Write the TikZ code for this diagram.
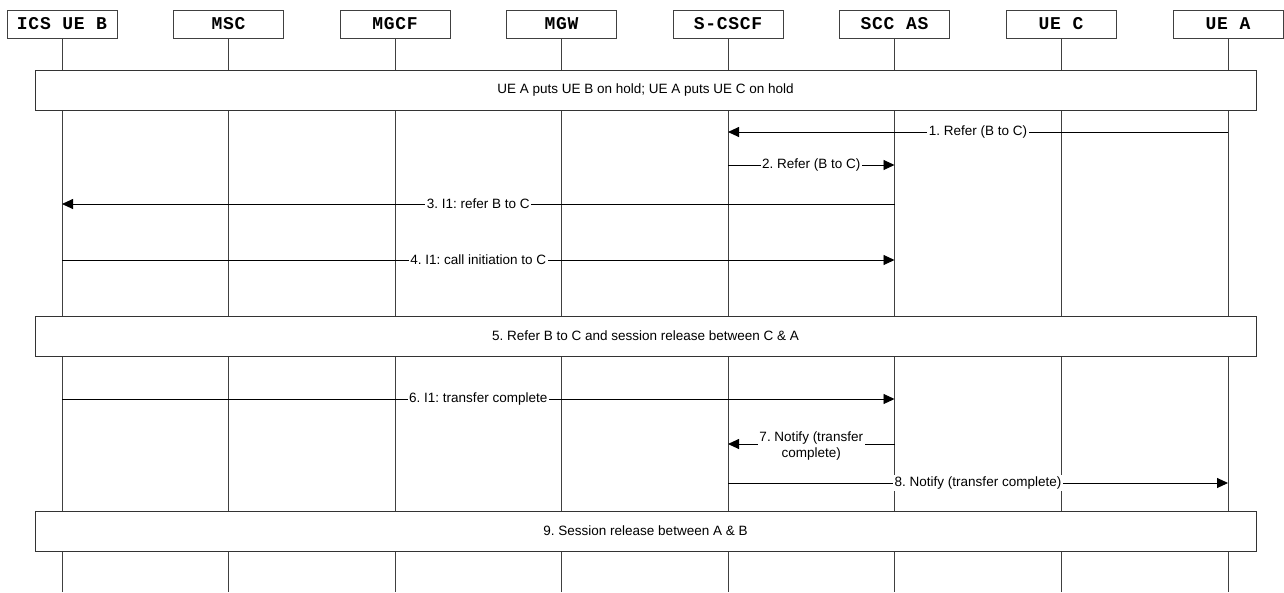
\documentclass[tikz,border=0pt]{standalone}
\usepackage{fontspec}
\setmainfont{Liberation Sans}
\newfontfamily\hdrfont[LetterSpace=4]{Liberation Mono}
\usetikzlibrary{arrows.meta}
\frenchspacing
\tikzset{
  hdr/.style={draw=black!75, line width=0.8pt, fill=white, minimum width=110pt, minimum height=28pt, inner sep=0pt, font=\hdrfont\bfseries\fontsize{18}{20}\selectfont},
  life/.style={draw=black!75, line width=0.8pt},
  band/.style={draw=black!80, line width=0.8pt, fill=white, minimum width=1221pt, minimum height=40pt, inner sep=0pt, font=\fontsize{13.5}{16}\selectfont},
  msg/.style={draw=black, line width=0.9pt, -{Triangle[length=11pt,width=10pt]}},
  lbl/.style={fill=white, inner sep=1.5pt, font=\fontsize{13.5}{16}\selectfont, align=center}
}
\begin{document}
\begin{tikzpicture}[x=1pt,y=-1pt]
\useasboundingbox (0,0) rectangle (1284,592);
% header nodes
\node[hdr] (h1) at (62,24) {ICS UE B};
\node[hdr] (h2) at (228.5,24) {MSC};
\node[hdr] (h3) at (395,24) {MGCF};
\node[hdr] (h4) at (561.5,24) {MGW};
\node[hdr] (h5) at (728,24) {S-CSCF};
\node[hdr] (h6) at (894.5,24) {SCC AS};
\node[hdr] (h7) at (1061,24) {UE C};
\node[hdr] (h8) at (1228,24) {UE A};
% lifelines
\foreach \i in {1,...,8} {
  \coordinate (e\i) at (h\i |- 0,592);
  \draw[life] (h\i.south) -- (e\i);
}
% bands
\node[band] (b1) at (645.5,90) {UE A puts UE B on hold; UE A puts UE C on hold};
\node[band] (b5) at (645.5,336) {5. Refer B to C and session release between C \& A};
\node[band] (b9) at (645.5,531) {9. Session release between A \& B};
% messages
\draw[msg] (h8 |- 0,132) -- node[lbl] {1. Refer (B to C)} (h5 |- 0,132);
\draw[msg] (h5 |- 0,165) -- node[lbl] {2. Refer (B to C)} (h6 |- 0,165);
\draw[msg] (h6 |- 0,204) -- node[lbl] {3. I1: refer B to C} (h1 |- 0,204);
\draw[msg] (h1 |- 0,260) -- node[lbl] {4. I1: call initiation to C} (h6 |- 0,260);
\draw[msg] (h1 |- 0,399) -- node[lbl] {6. I1: transfer complete} (h6 |- 0,399);
\draw[msg] (h6 |- 0,444) -- node[lbl, yshift=-2pt] {7. Notify (transfer\\complete)} (h5 |- 0,444);
\draw[msg] (h5 |- 0,483) -- node[lbl] {8. Notify (transfer complete)} (h8 |- 0,483);
\end{tikzpicture}
\end{document}
